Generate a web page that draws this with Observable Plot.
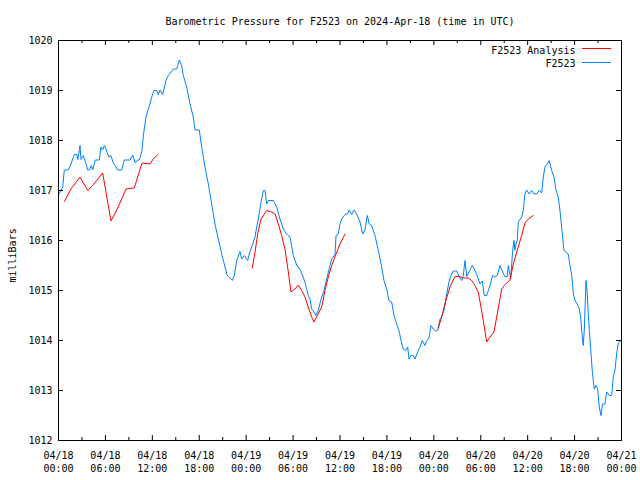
<!DOCTYPE html>
<html><head><meta charset="utf-8">
<script src="https://cdn.jsdelivr.net/npm/d3@7"></script>
<script src="https://cdn.jsdelivr.net/npm/@observablehq/plot@0.6"></script>
<style>body{margin:0;background:#fff}</style>
</head><body><div id="chart"></div>
<script>
const startUTC = Date.UTC(2024, 3, 18, 0, 0);
const titleText = "Barometric Pressure for F2523 on 2024-Apr-18 (time in UTC)";
const yLabelText = "milliBars";
const seriesNames = ["F2523 Analysis", "F2523"];
const seriesColors = ["#ff0000", "#0080ff"];
const yTicks = [1012, 1013, 1014, 1015, 1016, 1017, 1018, 1019, 1020];
const xMajorHours = [0, 6, 12, 18, 24, 30, 36, 42, 48, 54, 60, 66, 72];
const xMinorHours = [3, 9, 15, 21, 27, 33, 39, 45, 51, 57, 63, 69];

// Observed F2523 (hours since 04/18 00:00 UTC, mb)
const obsHours = [0.1,0.54,0.74,1.25,1.6,2.02,2.33,2.49,2.75,2.88,
3.17,3.52,3.73,3.94,4.19,4.37,4.71,5.22,5.43,5.65,
5.86,6.07,6.42,6.71,7.01,7.35,7.57,8.08,8.41,9.14,
9.49,9.82,10.13,10.33,10.68,10.87,11.19,11.36,11.61,11.92,
12.21,12.56,12.76,12.98,13.32,13.75,14.04,14.48,14.68,15.12,
15.45,15.75,15.96,16.39,16.82,17.24,17.46,18.01,18.31,18.73,
19.16,19.59,20.01,20.44,20.87,21.29,21.59,21.93,22.23,22.48,
22.79,23.21,23.43,23.76,24.19,24.49,24.78,25.13,25.35,25.55,
25.98,26.19,26.41,26.62,26.83,27.47,27.9,28.32,28.75,29.18,
29.6,30.03,30.46,30.88,31.18,31.52,31.94,32.16,32.38,32.67,
32.93,33.22,33.53,33.95,34.3,34.72,34.94,35.36,35.49,35.78,
36.0,36.22,36.64,36.93,37.19,37.49,37.79,38.13,38.56,38.9,
39.19,39.49,39.74,40.05,40.47,40.9,41.33,41.62,41.97,42.26,
42.61,42.9,43.25,43.58,43.8,44.09,44.4,44.66,44.82,45.08,
45.37,45.59,45.93,46.23,46.52,46.87,47.08,47.38,47.63,47.93,
48.24,48.49,48.79,49.0,49.33,49.64,49.94,50.19,50.49,50.92,
51.21,51.56,51.77,51.98,52.2,52.49,52.92,53.26,53.61,53.9,
54.19,54.45,54.76,55.18,55.52,55.82,56.11,56.46,56.8,57.1,
57.39,57.52,57.83,58.08,58.25,58.38,58.5,58.67,58.8,59.23,
59.44,59.65,59.87,60.2,60.51,60.81,61.15,61.48,61.79,62.0,
62.21,62.51,62.76,63.07,63.36,63.62,63.91,64.13,64.64,65.19,
65.41,65.63,65.76,65.84,66.05,66.34,66.6,66.78,66.91,67.03,
67.11,67.24,67.46,67.62,67.75,67.88,68.06,68.26,68.39,68.52,
68.73,68.95,69.16,69.37,69.59,69.88,70.1,70.43,70.74,70.95,
71.16,71.38,71.59,71.9];
const obsPressure = [1016.94,1017.07,1017.41,1017.41,1017.53,1017.72,1017.72,1017.62,1017.9,1017.62,
1017.7,1017.54,1017.41,1017.41,1017.5,1017.41,1017.61,1017.61,1017.87,1017.81,
1017.9,1017.83,1017.67,1017.7,1017.55,1017.47,1017.41,1017.41,1017.61,1017.61,
1017.71,1017.55,1017.61,1017.61,1017.8,1018.12,1018.47,1018.57,1018.68,1018.87,
1019.0,1019.0,1018.92,1019.01,1018.92,1019.2,1019.3,1019.39,1019.43,1019.43,
1019.61,1019.5,1019.3,1019.07,1018.73,1018.47,1018.21,1018.21,1017.87,1017.47,
1017.13,1016.73,1016.33,1016.03,1015.73,1015.47,1015.3,1015.25,1015.2,1015.3,
1015.6,1015.78,1015.63,1015.7,1015.6,1015.78,1015.9,1016.07,1016.27,1016.43,
1016.83,1017.0,1017.0,1016.73,1016.8,1016.8,1016.67,1016.43,1016.23,1016.13,
1016.07,1015.7,1015.51,1015.42,1015.31,1015.17,1014.9,1014.83,1014.63,1014.57,
1014.5,1014.6,1014.8,1015.0,1015.23,1015.5,1015.63,1015.72,1016.1,1016.13,
1016.33,1016.43,1016.52,1016.53,1016.61,1016.52,1016.61,1016.53,1016.37,1016.13,
1016.21,1016.5,1016.33,1016.3,1016.1,1015.8,1015.47,1015.2,1015.03,1014.8,
1014.77,1014.5,1014.33,1014.17,1014.0,1013.83,1013.8,1013.87,1013.63,1013.7,
1013.7,1013.63,1013.77,1013.87,1014.0,1013.9,1013.99,1014.05,1014.3,1014.23,
1014.19,1014.2,1014.43,1014.47,1014.63,1014.93,1015.17,1015.3,1015.39,1015.39,
1015.28,1015.2,1015.3,1015.6,1015.28,1015.37,1015.5,1015.4,1015.27,1015.13,
1015.19,1014.9,1014.9,1015.1,1015.3,1015.27,1015.3,1015.5,1015.37,1015.28,
1015.28,1015.5,1015.23,1015.8,1016.0,1015.8,1015.93,1016.0,1016.37,1016.47,
1016.6,1016.93,1017.01,1016.93,1017.0,1016.93,1016.93,1017.01,1016.95,1017.27,
1017.47,1017.53,1017.6,1017.4,1017.27,1017.01,1016.87,1016.6,1015.8,1015.73,
1015.5,1015.3,1015.1,1014.93,1014.8,1014.73,1014.63,1014.47,1014.2,1014.0,
1013.9,1014.2,1015.2,1014.93,1014.53,1014.2,1013.83,1013.4,1013.2,1013.03,
1013.1,1013.03,1012.67,1012.5,1012.73,1012.73,1012.97,1012.9,1012.9,1013.27,
1013.4,1013.73,1013.95,1014.0];

// Analysis F2523, three runs
const anaRun1Hours = [0.74,1.6,2.75,3.73,4.37,5.65,6.71,7.57,8.63,9.69,10.68,11.7,12.12,12.76];
const anaRun1Pressure = [1016.78,1017.03,1017.27,1017.0,1017.1,1017.35,1016.39,1016.65,1017.03,1017.05,1017.55,1017.53,1017.63,1017.73];
const anaRun2Hours = [24.78,25.13,25.47,25.9,26.62,27.26,27.69,28.11,28.54,28.96,29.39,29.73,30.24,30.67,31.1,31.52,31.94,32.38,32.67,33.1,33.66,34.08,34.5,34.94,35.49,36.0,36.64];
const anaRun2Pressure = [1015.45,1015.77,1016.13,1016.43,1016.6,1016.57,1016.53,1016.33,1016.1,1015.83,1015.37,1014.97,1015.03,1015.11,1015.0,1014.87,1014.67,1014.47,1014.37,1014.5,1014.67,1015.0,1015.27,1015.5,1015.73,1015.93,1016.13];
const anaRun3Hours = [48.57,49.0,49.42,50.06,50.7,51.21,51.77,52.4,52.84,53.26,53.68,54.03,54.32,54.76,55.18,55.69,56.04,56.68,57.1,57.74,58.16,58.8,59.23,59.65,60.08,60.72];
const anaRun3Pressure = [1014.25,1014.47,1014.73,1015.07,1015.28,1015.28,1015.25,1015.25,1015.2,1015.1,1014.97,1014.67,1014.4,1013.97,1014.07,1014.17,1014.47,1015.03,1015.12,1015.21,1015.53,1015.87,1016.1,1016.35,1016.43,1016.5];

const toDate = h => new Date(startUTC + h * 3600 * 1000);
const obs = obsHours.map((h, i) => ({t: toDate(h), p: obsPressure[i]}));
const ana = [];
[[anaRun1Hours, anaRun1Pressure], [anaRun2Hours, anaRun2Pressure], [anaRun3Hours, anaRun3Pressure]]
  .forEach(([hs, ps], run) => hs.forEach((h, i) => ana.push({t: toDate(h), p: ps[i], run})));
const majorDates = xMajorHours.map(toDate);
const minorDates = xMinorHours.map(toDate);
const fmt = d3.utcFormat("%m/%d\n%H:%M");

const W = 640, H = 480, mL = 58, mR = 19, mT = 40, mB = 40;
const fw = W - mL - mR, fh = H - mT - mB;
const font = "DejaVu Sans Mono, monospace";

const chart = Plot.plot({
  width: W, height: H,
  marginLeft: mL, marginRight: mR, marginTop: mT, marginBottom: mB,
  style: {fontFamily: font, fontSize: "10px", background: "#fff", color: "#000"},
  x: {type: "utc", domain: [toDate(0), toDate(72)]},
  y: {domain: [1012, 1020]},
  marks: [
    Plot.line(obs, {x: "t", y: "p", stroke: seriesColors[1], strokeWidth: 1}),
    Plot.line(ana, {x: "t", y: "p", z: "run", stroke: seriesColors[0], strokeWidth: 1}),
    Plot.tickX(majorDates, {x: d => d, insetTop: fh - 5, stroke: "#000"}),
    Plot.tickX(majorDates, {x: d => d, insetBottom: fh - 5, stroke: "#000"}),
    Plot.tickX(minorDates, {x: d => d, insetTop: fh - 3, stroke: "#000"}),
    Plot.tickX(minorDates, {x: d => d, insetBottom: fh - 3, stroke: "#000"}),
    Plot.tickY(yTicks, {y: d => d, insetRight: fw - 5, stroke: "#000"}),
    Plot.tickY(yTicks, {y: d => d, insetLeft: fw - 5, stroke: "#000"}),
    Plot.frame({stroke: "#000"}),
    Plot.axisX({ticks: majorDates, tickSize: 0, tickPadding: 9, tickFormat: fmt, lineHeight: 1.3, label: null, fontSize: 10}),
    Plot.axisY({ticks: yTicks, tickSize: 0, tickPadding: 6, tickFormat: d => String(d), label: null, fontSize: 10}),
    Plot.text([titleText], {text: d => d, frameAnchor: "top", dy: -23, fontSize: 10}),
    Plot.text([yLabelText], {text: d => d, frameAnchor: "left", dx: -46, dy: 42, rotate: -90, fontSize: 10}),
    Plot.text([seriesNames[0]], {text: d => d, frameAnchor: "top-right", dx: -46, dy: 6, textAnchor: "end", fontSize: 10}),
    Plot.text([seriesNames[1]], {text: d => d, frameAnchor: "top-right", dx: -46, dy: 19, textAnchor: "end", fontSize: 10})
  ]
});
// legend key lines
const svg = d3.select(chart);
[[0, 48.5], [1, 62.5]].forEach(([i, y]) => {
  svg.append("line").attr("x1", 582).attr("x2", 611).attr("y1", y).attr("y2", y)
    .attr("stroke", seriesColors[i]).attr("stroke-width", 1);
});
document.getElementById("chart").appendChild(chart);
</script>
</body></html>
